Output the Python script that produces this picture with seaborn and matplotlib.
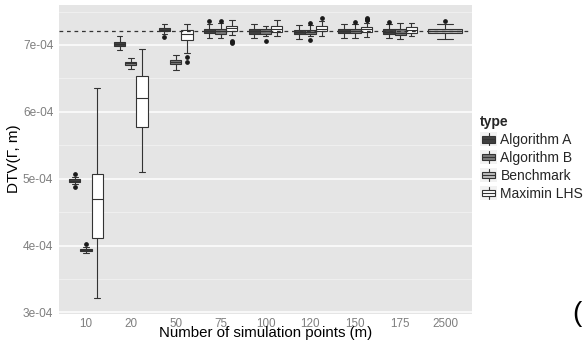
import numpy as np
import pandas as pd
import matplotlib
matplotlib.use("Agg")
import matplotlib.pyplot as plt
import seaborn as sns
from matplotlib.patches import Rectangle, Patch
from matplotlib.lines import Line2D
from matplotlib.legend_handler import HandlerBase

# ---------------- data (values in units of 1e-4) ----------------
m_levels = ["10", "20", "50", "75", "100", "120", "150", "175", "2500"]
m_sim = ["10", "20", "50", "75", "100", "120", "150", "175"]
m_bench = ["2500"]
type_levels = ["Algorithm A", "Algorithm B", "Benchmark", "Maximin LHS"]

# (lower whisker, Q1, median, Q3, upper whisker) for each m in m_sim
alg_a = [
    (4.925, 4.955, 4.970, 4.993, 5.030),
    (6.925, 6.985, 7.015, 7.045, 7.130),
    (7.170, 7.205, 7.224, 7.258, 7.310),
    (7.104, 7.179, 7.209, 7.239, 7.320),
    (7.100, 7.169, 7.209, 7.244, 7.313),
    (7.090, 7.160, 7.194, 7.224, 7.299),
    (7.109, 7.175, 7.209, 7.239, 7.313),
    (7.109, 7.170, 7.194, 7.235, 7.313),
]
alg_a_out = [[5.065, 4.875], [], [7.115], [7.358], [], [], [], [7.350]]

alg_b = [
    (3.895, 3.918, 3.940, 3.955, 3.985),
    (6.640, 6.700, 6.725, 6.746, 6.800),
    (6.630, 6.710, 6.750, 6.776, 6.850),
    (7.104, 7.169, 7.205, 7.243, 7.330),
    (7.134, 7.169, 7.204, 7.237, 7.284),
    (7.130, 7.168, 7.198, 7.228, 7.300),
    (7.109, 7.175, 7.209, 7.239, 7.313),
    (7.085, 7.149, 7.179, 7.234, 7.324),
]
alg_b_out = [[4.030], [], [], [7.360], [7.055], [7.330, 7.070], [7.343], []]

maximin = [
    (3.210, 4.120, 4.690, 5.075, 6.360),
    (5.100, 5.780, 6.200, 6.537, 6.940),
    (6.876, 7.075, 7.160, 7.224, 7.320),
    (7.150, 7.209, 7.249, 7.288, 7.370),
    (7.134, 7.199, 7.246, 7.288, 7.373),
    (7.139, 7.212, 7.246, 7.280, 7.355),
    (7.124, 7.199, 7.239, 7.264, 7.324),
    (7.134, 7.184, 7.224, 7.264, 7.324),
]
maximin_out = [[], [], [6.825, 6.740], [7.060, 7.045, 7.030], [], [7.400],
               [7.400, 7.390, 7.380, 7.370], []]

benchmark = [(7.090, 7.180, 7.210, 7.245, 7.313)]
benchmark_out = [[7.358]]

reference_value = 7.21  # dashed line
y_ticks = [3, 4, 5, 6, 7]
y_ticklabels = ["3e-04", "4e-04", "5e-04", "6e-04", "7e-04"]
SCALE = 1e-4


def box_sample(five, outs):
    lo, q1, med, q3, hi = five
    return [lo] + [q1] * 10 + [med] * 10 + [q3] * 10 + [hi] + list(outs)


def build(levels, name, stats, outs):
    rows = []
    for m, five, o in zip(levels, stats, outs):
        for v in box_sample(five, o):
            rows.append({"m": m, "type": name, "value": v * SCALE})
    return rows


df_main = pd.DataFrame(build(m_sim, "Algorithm A", alg_a, alg_a_out)
                       + build(m_sim, "Algorithm B", alg_b, alg_b_out)
                       + build(m_sim, "Maximin LHS", maximin, maximin_out))
df_bench = pd.DataFrame(build(m_bench, "Benchmark", benchmark, benchmark_out))

colors = {"Algorithm A": "#404040", "Algorithm B": "#7a7a7a",
          "Benchmark": "#bdbdbd", "Maximin LHS": "#ffffff"}

# ---------------- style ----------------
sns.set_style("white")
plt.rcParams["font.family"] = ["Liberation Sans", "DejaVu Sans"]

LINE = "#333333"
fig = plt.figure(figsize=(5.85, 3.4), dpi=100)
W, H = 585, 340
ax = fig.add_axes([59 / W, 1 - 313.5 / H, (472 - 59) / W, (313.5 - 4.5) / H])
ax.set_facecolor("#E5E5E5")

common = dict(x="m", y="value", hue="type", order=m_levels, palette=colors,
              width=0.75, gap=0, linecolor=LINE, linewidth=0.8, saturation=1,
              legend=False, ax=ax,
              flierprops=dict(marker="o", markersize=2.4, markerfacecolor="#1a1a1a",
                              markeredgecolor="#1a1a1a"))
sns.boxplot(data=df_main, hue_order=["Algorithm A", "Algorithm B", "Maximin LHS"], **common)
sns.boxplot(data=df_bench, hue_order=["Benchmark"], **common)

ax.axhline(reference_value * SCALE, color=LINE, lw=0.9, ls=(0, (3, 3)), zorder=10)

ax.set_xlim(-0.6, 8.6)
ax.set_ylim(2.985e-4, 7.605e-4)
ax.set_yticks([t * SCALE for t in y_ticks])
ax.set_yticklabels(y_ticklabels)
ax.set_yticks([(t + 0.5) * SCALE for t in y_ticks], minor=True)
ax.set_axisbelow(True)
ax.yaxis.grid(True, which="major", color="white", lw=1.1)
ax.yaxis.grid(True, which="minor", color="#F2F2F2", lw=0.6)
ax.xaxis.grid(False)
for s in ax.spines.values():
    s.set_visible(False)
ax.tick_params(axis="both", which="major", length=2.6, width=0.8, color="#7f7f7f",
               labelcolor="#7f7f7f", labelsize=8.6)
ax.tick_params(axis="x", which="major", pad=0.3, labelsize=8.4)
ax.tick_params(axis="y", which="major", pad=1.5)
ax.tick_params(axis="y", which="minor", length=0)

ax.set_xlabel("Number of simulation points (m)", fontsize=10.8, color="black", labelpad=-2.2)
ax.set_ylabel("DTV(Γ, m)", fontsize=11, color="black", labelpad=1.5)


# ---------------- legend ----------------
class BoxKey(HandlerBase):
    def create_artists(self, legend, orig_handle, xdescent, ydescent, width, height,
                       fontsize, trans):
        fc = orig_handle.get_facecolor()
        x = -xdescent
        y = -ydescent
        bg = Rectangle((x, y), width, height, facecolor="#F2F2F2", edgecolor="none",
                       transform=trans)
        bx, bw = x + 0.1 * width, 0.8 * width
        by, bh = y + 0.27 * height, 0.46 * height
        box = Rectangle((bx, by), bw, bh, facecolor=fc, edgecolor=LINE, lw=0.8,
                        transform=trans)
        cx = x + width / 2
        w1 = Line2D([cx, cx], [y + 0.1 * height, by], color=LINE, lw=0.8, transform=trans)
        w2 = Line2D([cx, cx], [by + bh, y + 0.9 * height], color=LINE, lw=0.8, transform=trans)
        med = Line2D([bx, bx + bw], [by + bh / 2] * 2, color=LINE, lw=0.8, transform=trans)
        return [bg, box, w1, w2, med]


handles = [Patch(facecolor=colors[t], edgecolor=LINE) for t in type_levels]
fs_px = 10 / 72 * 100
leg = fig.legend(handles, type_levels, handler_map={Patch: BoxKey()},
                 loc="upper left", bbox_to_anchor=(480 / W, 1 - 115 / H),
                 frameon=False, fontsize=10, title="type",
                 title_fontproperties={"weight": "bold", "size": 10},
                 handlelength=17 / fs_px, handleheight=17 / fs_px,
                 labelspacing=3 / fs_px, handletextpad=3.5 / fs_px,
                 borderpad=0, borderaxespad=0, alignment="left")

fig.text(577 / W, 1 - 314 / H, "(", fontsize=20, ha="center", va="center", color="black")

fig.savefig("out.png", dpi=100)
